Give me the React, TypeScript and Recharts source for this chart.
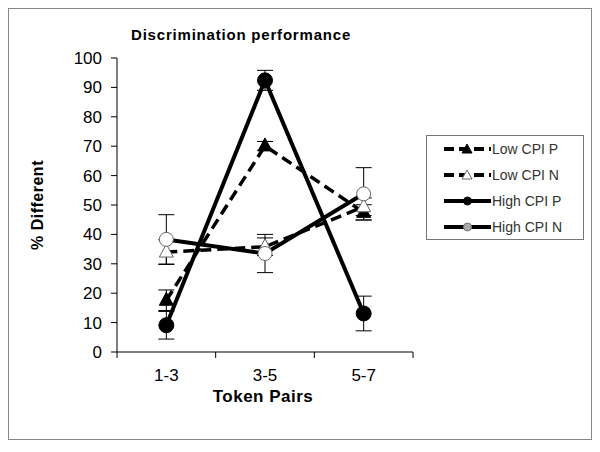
import React from 'react';
import { LineChart, Line, XAxis, YAxis, ErrorBar } from 'recharts';

const categories = ['1-3', '3-5', '5-7'];
const yTicks = [0, 10, 20, 30, 40, 50, 60, 70, 80, 90, 100];

const lowCpiP = [17.6, 70.1, 47.5];
const lowCpiN = [34, 35.8, 49.4];
const highCpiP = [9.1, 92.4, 13.1];
const highCpiN = [38.3, 33.5, 53.8];

const lowCpiPErr = [3.5, 1.5, 2.6];
const lowCpiNErr = [4.2, 3, 3];
const highCpiPErr = [4.7, 3.4, 5.9];
const highCpiNErr = [8.4, 6.5, 8.9];

const data = categories.map((c, i) => ({
  pair: c,
  lowP: lowCpiP[i],
  lowN: lowCpiN[i],
  highP: highCpiP[i],
  highN: highCpiN[i],
  lowPErr: lowCpiPErr[i],
  lowNErr: lowCpiNErr[i],
  highPErr: highCpiPErr[i],
  highNErr: highCpiNErr[i],
}));

const FONT = '"Liberation Sans", Arial, sans-serif';
const PLOT_W = 296;
const BAND = PLOT_W / categories.length;

const Triangle = ({ cx, cy, filled }: any) => {
  if (cx == null || cy == null) return null;
  return (
    <polygon
      points={`${cx},${cy - 8} ${cx - 7},${cy + 5} ${cx + 7},${cy + 5}`}
      fill={filled ? '#000' : '#fff'}
      stroke={filled ? '#000' : '#666'}
      strokeWidth={1}
    />
  );
};

const Circle = ({ cx, cy, filled }: any) => {
  if (cx == null || cy == null) return null;
  return (
    <circle
      cx={cx}
      cy={cy}
      r={filled ? 7.5 : 7}
      fill={filled ? '#000' : '#fff'}
      stroke={filled ? '#000' : '#666'}
      strokeWidth={1}
    />
  );
};

const XTick = (props: any) => {
  const { x, y, payload, index } = props;
  return (
    <g>
      <line x1={x - BAND / 2} y1={y} x2={x - BAND / 2} y2={y + 6} stroke="#000" />
      {index === categories.length - 1 && (
        <line x1={x + BAND / 2} y1={y} x2={x + BAND / 2} y2={y + 6} stroke="#000" />
      )}
      <text x={x} y={y + 29} textAnchor="middle" fontSize={17} fontFamily={FONT} fill="#000">
        {payload.value}
      </text>
    </g>
  );
};

const legendItems = [
  { name: 'Low CPI P', dashed: true, marker: 'tri', filled: true },
  { name: 'Low CPI N', dashed: true, marker: 'tri', filled: false },
  { name: 'High CPI P', dashed: false, marker: 'circ', filled: true },
  { name: 'High CPI N', dashed: false, marker: 'circ', filled: false },
];

const LegendBox = () => (
  <div
    style={{
      position: 'absolute',
      left: 417,
      top: 126,
      width: 158,
      height: 105,
      border: '1px solid #777',
      background: '#fff',
      boxSizing: 'border-box',
      paddingTop: 0,
    }}
  >
    {legendItems.map((it) => (
      <div key={it.name} style={{ display: 'flex', alignItems: 'center', height: 26, paddingLeft: 17 }}>
        <svg width={47} height={14}>
          <line
            x1={0}
            y1={7}
            x2={47}
            y2={7}
            stroke="#000"
            strokeWidth={4}
            strokeDasharray={it.dashed ? '10 5' : undefined}
          />
          {it.marker === 'tri' ? (
            <polygon
              points="23,2 18,11 28,11"
              fill={it.filled ? '#000' : '#fff'}
              stroke={it.filled ? '#000' : '#666'}
              strokeWidth={1}
            />
          ) : (
            <circle cx={23.5} cy={7} r={4} fill={it.filled ? '#000' : '#aaa'} stroke={it.filled ? '#000' : '#777'} />
          )}
        </svg>
        <span style={{ fontFamily: FONT, fontSize: 14, color: '#333', marginLeft: 1 }}>{it.name}</span>
      </div>
    ))}
  </div>
);

const App: React.FC = () => {
  return (
    <div
      style={{
        position: 'relative',
        width: 584,
        height: 432,
        border: '1px solid #888',
        boxSizing: 'border-box',
        background: '#fff',
      }}
    >
      <div
        style={{
          position: 'absolute',
          left: 122,
          top: 17,
          fontFamily: FONT,
          fontWeight: 'bold',
          fontSize: 15,
          letterSpacing: 0.8,
          whiteSpace: 'nowrap',
        }}
      >
        Discrimination performance
      </div>
      <div
        style={{
          position: 'absolute',
          left: 29,
          top: 196,
          width: 0,
          height: 0,
        }}
      >
        <div
          style={{
            position: 'absolute',
            transform: 'translate(-50%, -50%) rotate(-90deg)',
            fontFamily: FONT,
            fontWeight: 'bold',
            fontSize: 16,
            letterSpacing: 0.5,
            whiteSpace: 'nowrap',
          }}
        >
          % Different
        </div>
      </div>
      <div
        style={{
          position: 'absolute',
          left: 254,
          top: 388,
          transform: 'translate(-50%, -50%)',
          fontFamily: FONT,
          fontWeight: 'bold',
          fontSize: 17,
          letterSpacing: 0.5,
          whiteSpace: 'nowrap',
        }}
      >
        Token Pairs
      </div>
      <LineChart width={582} height={430} data={data} margin={{ top: 49, right: 178, bottom: 57, left: 48 }}>
        <XAxis
          dataKey="pair"
          height={30}
          tickSize={0}
          tickMargin={0}
          tickLine={false}
          axisLine={{ stroke: '#000' }}
          tick={<XTick />}
          interval={0}
          padding={{ left: BAND / 2, right: BAND / 2 }}
        />
        <YAxis
          width={60}
          domain={[0, 100]}
          ticks={yTicks}
          interval={0}
          tickSize={6}
          tickMargin={9}
          axisLine={{ stroke: '#000' }}
          tickLine={{ stroke: '#000' }}
          tick={{ fontSize: 17, fontFamily: FONT, fill: '#000' }}
        />
        <Line
          dataKey="lowP"
          stroke="#000"
          strokeWidth={3.5}
          strokeDasharray="11 6"
          dot={<Triangle filled />}
          isAnimationActive={false}
        >
          <ErrorBar dataKey="lowPErr" width={8} stroke="#000" strokeWidth={1} direction="y" />
        </Line>
        <Line
          dataKey="lowN"
          stroke="#000"
          strokeWidth={3.5}
          strokeDasharray="11 6"
          dot={<Triangle filled={false} />}
          isAnimationActive={false}
        >
          <ErrorBar dataKey="lowNErr" width={8} stroke="#000" strokeWidth={1} direction="y" />
        </Line>
        <Line
          dataKey="highP"
          stroke="#000"
          strokeWidth={4}
          dot={<Circle filled />}
          isAnimationActive={false}
        >
          <ErrorBar dataKey="highPErr" width={8} stroke="#000" strokeWidth={1} direction="y" />
        </Line>
        <Line
          dataKey="highN"
          stroke="#000"
          strokeWidth={4}
          dot={<Circle filled={false} />}
          isAnimationActive={false}
        >
          <ErrorBar dataKey="highNErr" width={8} stroke="#000" strokeWidth={1} direction="y" />
        </Line>
      </LineChart>
      <LegendBox />
    </div>
  );
};

export default App;
